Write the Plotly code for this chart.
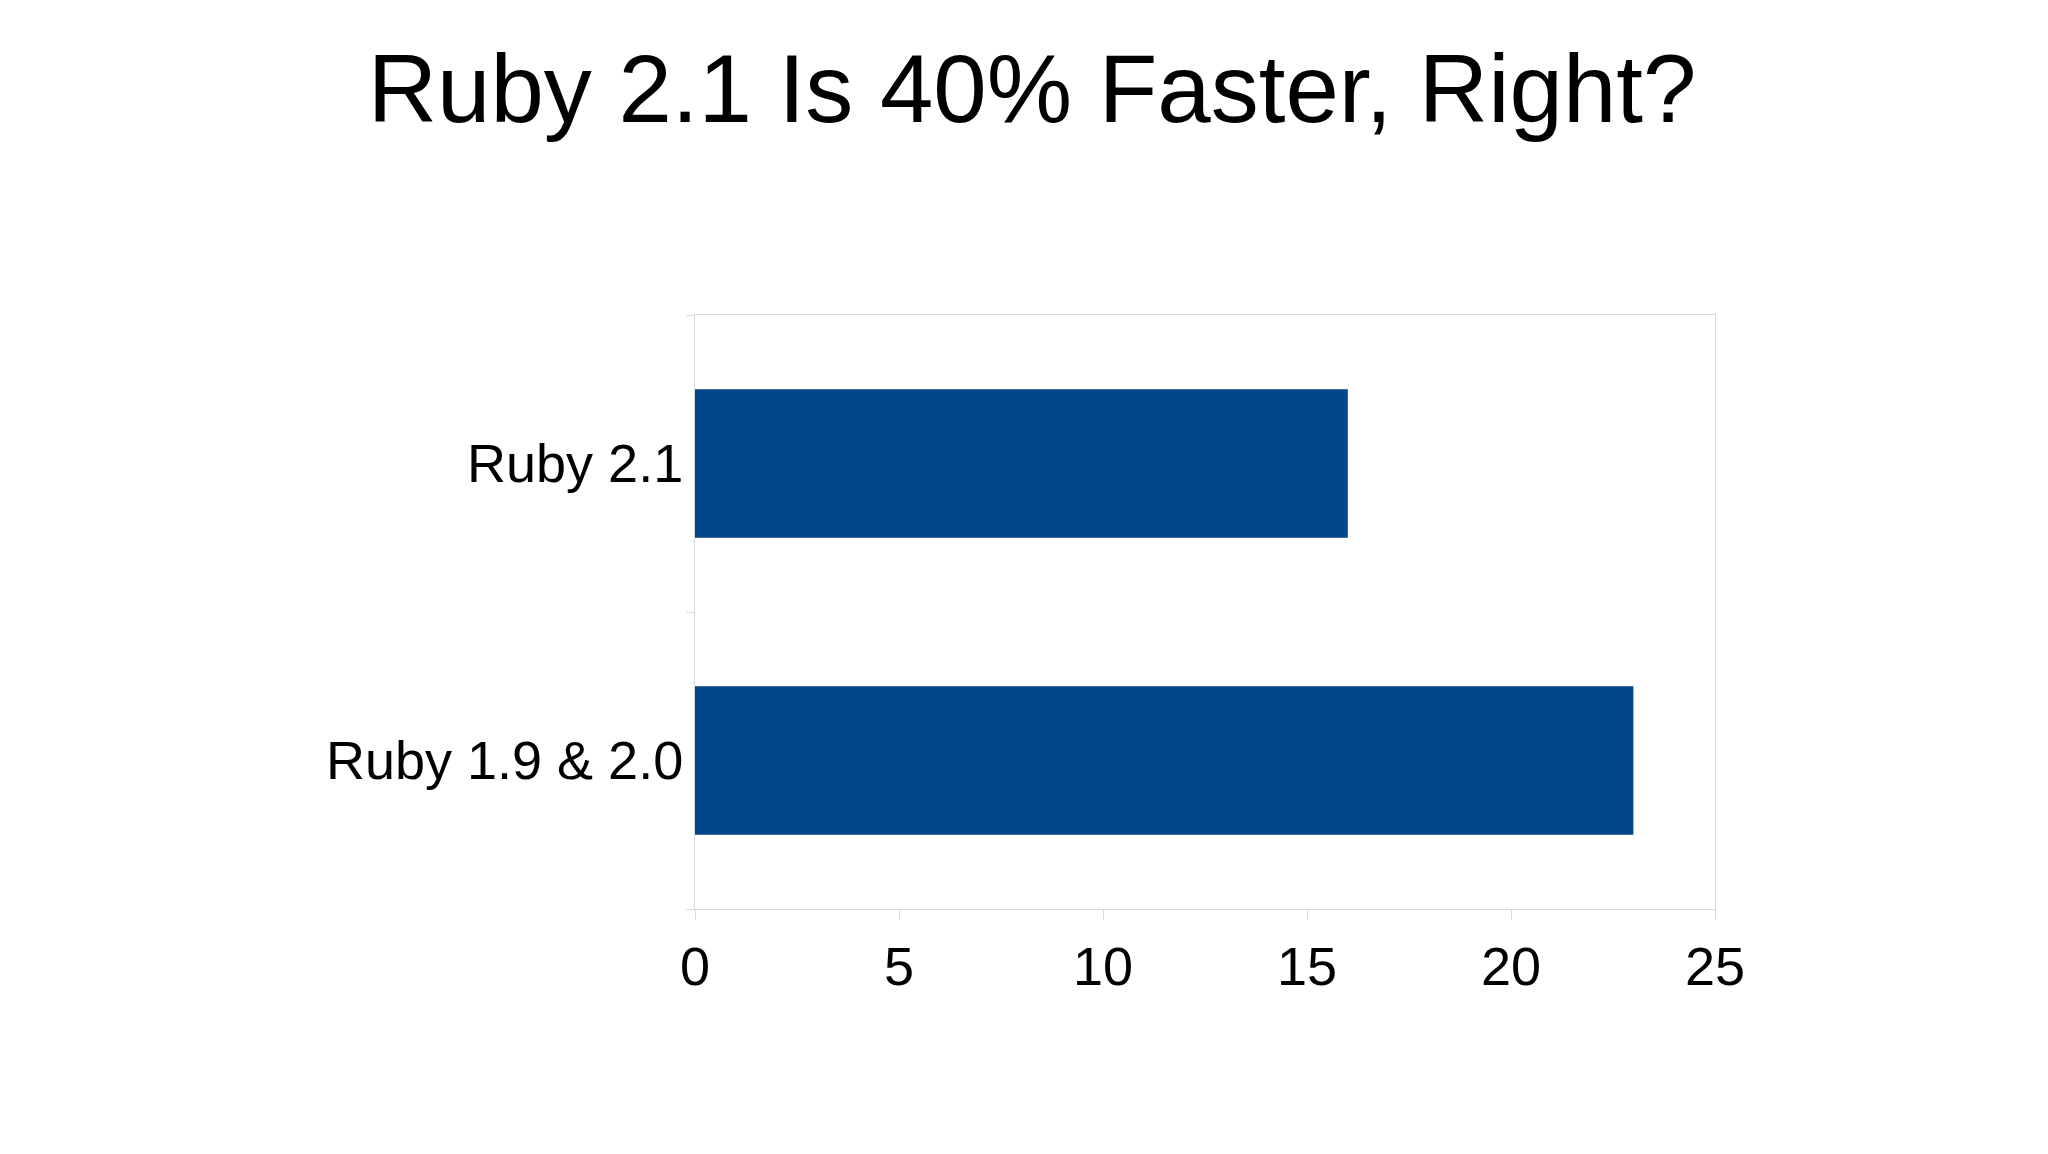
import plotly.graph_objects as go

categories = ["Ruby 1.9 & 2.0", "Ruby 2.1"]
values = [23, 16]
x_ticks = [0, 5, 10, 15, 20, 25]

fig = go.Figure(go.Bar(x=values, y=categories, orientation="h", width=0.5,
                       marker=dict(color="#02458a", line=dict(width=0))))
fig.update_layout(
    width=2048, height=1154, paper_bgcolor="white", plot_bgcolor="white",
    font=dict(family="Liberation Sans", color="black", size=54),
    title=dict(text="Ruby 2.1 Is 40% Faster, Right?", x=0.5, xanchor="center",
               y=0.93, yanchor="middle", font=dict(size=96)),
    margin=dict(l=687, r=341, t=307, b=253), showlegend=False,
)
fig.update_xaxes(range=[0, 25], tickvals=x_ticks, showgrid=False, zeroline=False,
                 showline=True, linecolor="#d9d9d9", mirror=True,
                 ticks="outside", ticklen=10, tickcolor="#d9d9d9")
fig.update_yaxes(showgrid=False, showline=True, linecolor="#d9d9d9", mirror=True,
                 ticks="outside", ticklen=8, tickcolor="#d9d9d9",
                 tickson="boundaries", range=[-0.5, 1.5])
fig.write_html("out.html")
